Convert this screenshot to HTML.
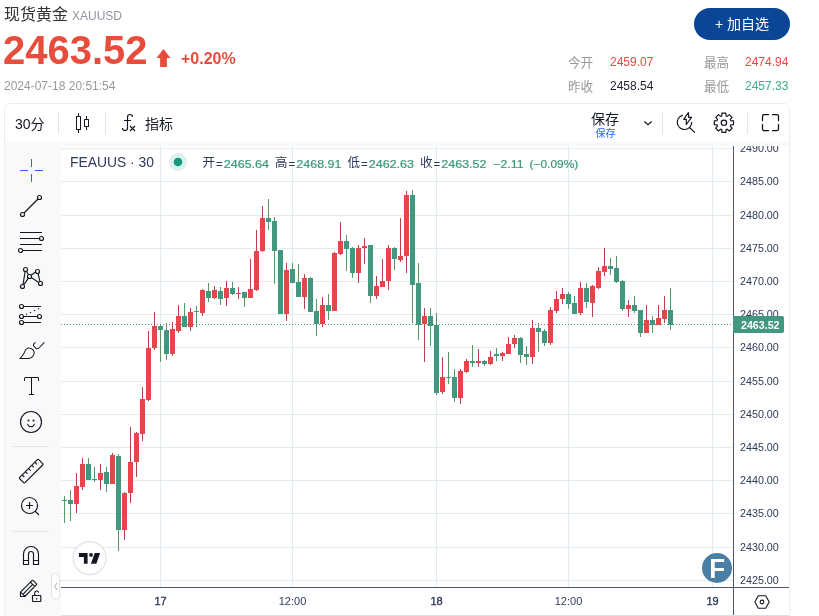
<!DOCTYPE html>
<html lang="zh-CN">
<head>
<meta charset="utf-8">
<title>现货黄金 XAUUSD</title>
<style>
*{box-sizing:border-box;margin:0;padding:0}
html,body{width:819px;height:616px;overflow:hidden;background:#fff}
body{position:relative;font-family:"Liberation Sans","Noto Sans CJK SC",sans-serif;color:#333}
.abs{position:absolute;white-space:nowrap;line-height:1}
#title{left:4px;top:6px;font-size:16px;color:#333;line-height:18px}
#code{left:72px;top:9px;font-size:12px;color:#9094a0;line-height:14px}
#price{left:3px;top:28px;font-size:40px;font-weight:bold;color:#e74c3c;line-height:44px;transform:scaleY(1.035);transform-origin:0 36px}
#chg{left:181px;top:50px;font-size:16px;font-weight:bold;color:#e74c3c;line-height:18px}
#time{left:4px;top:79px;font-size:12px;color:#999;line-height:14px}
#btn{left:694px;top:8px;width:96px;height:32px;border-radius:16px;background:#0b4596;color:#fff;font-size:14px;line-height:32px;text-align:center}
.st{font-size:12px;line-height:14px}
.lb{color:#999;font-size:12.6px;margin-top:0.5px}
.up{color:#ea483f}
.dn{color:#3cae8c}
.eq{color:#1d2130}
#box{left:4px;top:103px;width:786px;height:530px;border:1px solid #eceef3;border-radius:6px;background:#f9f9f9;overflow:hidden}
#tb{left:0;top:0;width:784px;height:38px;background:#fff}
#pane{left:56px;top:42px;width:728px;height:490px;background:#fff;border-top-left-radius:3px}
.sep{width:1px;height:22px;top:112px;background:#e3e5ec}
.tbt{font-size:14px;color:#131722;line-height:16px}
svg{position:absolute;left:0;top:0}
svg text.ax{font-family:"Liberation Sans",sans-serif;font-size:11px;fill:#2f3a5a}
svg text{font-family:"Liberation Sans","Noto Sans CJK SC",sans-serif}
</style>
</head>
<body>
<div id="title" class="abs">现货黄金</div>
<div id="code" class="abs">XAUUSD</div>
<div id="price" class="abs">2463.52</div>
<div id="chg" class="abs">+0.20%</div>
<div id="time" class="abs">2024-07-18 20:51:54</div>
<div id="btn" class="abs">+ 加自选</div>
<div class="abs st lb" style="left:568px;top:55px">今开</div>
<div class="abs st up" style="left:610px;top:55px">2459.07</div>
<div class="abs st lb" style="left:704px;top:55px">最高</div>
<div class="abs st up" style="left:745px;top:55px">2474.94</div>
<div class="abs st lb" style="left:568px;top:79px">昨收</div>
<div class="abs st eq" style="left:610px;top:79px">2458.54</div>
<div class="abs st lb" style="left:704px;top:79px">最低</div>
<div class="abs st dn" style="left:745px;top:79px">2457.33</div>

<div id="box" class="abs">
  <div id="tb" class="abs"></div>
  <div id="pane" class="abs"></div>
</div>
<div class="abs sep" style="left:58px"></div>
<div class="abs sep" style="left:105px"></div>
<div class="abs sep" style="left:662px"></div>
<div class="abs sep" style="left:747px"></div>
<div class="abs tbt" style="left:15px;top:116px">30分</div>
<div class="abs tbt" style="left:145px;top:116px">指标</div>
<div class="abs tbt" style="left:591px;top:111px">保存</div>
<div class="abs" style="left:595.5px;top:128px;font-size:10px;color:#2962ff;line-height:12px">保存</div>

<svg width="819" height="616" viewBox="0 0 819 616">
<path d="M163.500 49L170.500 58H166.900V66.900H160.100V58H156.500Z" fill="#e74c3c"/>
<g shape-rendering="crispEdges">
<rect x="61" y="148" width="672" height="1" fill="#e1ecf2"/>
<rect x="61" y="181" width="672" height="1" fill="#e1ecf2"/>
<rect x="61" y="215" width="672" height="1" fill="#e1ecf2"/>
<rect x="61" y="248" width="672" height="1" fill="#e1ecf2"/>
<rect x="61" y="281" width="672" height="1" fill="#e1ecf2"/>
<rect x="61" y="314" width="672" height="1" fill="#e1ecf2"/>
<rect x="61" y="347" width="672" height="1" fill="#e1ecf2"/>
<rect x="61" y="381" width="672" height="1" fill="#e1ecf2"/>
<rect x="61" y="414" width="672" height="1" fill="#e1ecf2"/>
<rect x="61" y="447" width="672" height="1" fill="#e1ecf2"/>
<rect x="61" y="480" width="672" height="1" fill="#e1ecf2"/>
<rect x="61" y="513" width="672" height="1" fill="#e1ecf2"/>
<rect x="61" y="547" width="672" height="1" fill="#e1ecf2"/>
<rect x="61" y="580" width="672" height="1" fill="#e1ecf2"/>
<rect x="160" y="146" width="1" height="441" fill="#e1ecf2"/>
<rect x="292" y="146" width="1" height="441" fill="#e1ecf2"/>
<rect x="436" y="146" width="1" height="441" fill="#e1ecf2"/>
<rect x="568" y="146" width="1" height="441" fill="#e1ecf2"/>
<rect x="712" y="146" width="1" height="441" fill="#e1ecf2"/>
<rect x="61" y="324" width="1" height="1" fill="#41987f"/>
<rect x="64" y="324" width="1" height="1" fill="#41987f"/>
<rect x="67" y="324" width="1" height="1" fill="#41987f"/>
<rect x="70" y="324" width="1" height="1" fill="#41987f"/>
<rect x="73" y="324" width="1" height="1" fill="#41987f"/>
<rect x="76" y="324" width="1" height="1" fill="#41987f"/>
<rect x="79" y="324" width="1" height="1" fill="#41987f"/>
<rect x="82" y="324" width="1" height="1" fill="#41987f"/>
<rect x="85" y="324" width="1" height="1" fill="#41987f"/>
<rect x="88" y="324" width="1" height="1" fill="#41987f"/>
<rect x="91" y="324" width="1" height="1" fill="#41987f"/>
<rect x="94" y="324" width="1" height="1" fill="#41987f"/>
<rect x="97" y="324" width="1" height="1" fill="#41987f"/>
<rect x="100" y="324" width="1" height="1" fill="#41987f"/>
<rect x="103" y="324" width="1" height="1" fill="#41987f"/>
<rect x="106" y="324" width="1" height="1" fill="#41987f"/>
<rect x="109" y="324" width="1" height="1" fill="#41987f"/>
<rect x="112" y="324" width="1" height="1" fill="#41987f"/>
<rect x="115" y="324" width="1" height="1" fill="#41987f"/>
<rect x="118" y="324" width="1" height="1" fill="#41987f"/>
<rect x="121" y="324" width="1" height="1" fill="#41987f"/>
<rect x="124" y="324" width="1" height="1" fill="#41987f"/>
<rect x="127" y="324" width="1" height="1" fill="#41987f"/>
<rect x="130" y="324" width="1" height="1" fill="#41987f"/>
<rect x="133" y="324" width="1" height="1" fill="#41987f"/>
<rect x="136" y="324" width="1" height="1" fill="#41987f"/>
<rect x="139" y="324" width="1" height="1" fill="#41987f"/>
<rect x="142" y="324" width="1" height="1" fill="#41987f"/>
<rect x="145" y="324" width="1" height="1" fill="#41987f"/>
<rect x="148" y="324" width="1" height="1" fill="#41987f"/>
<rect x="151" y="324" width="1" height="1" fill="#41987f"/>
<rect x="154" y="324" width="1" height="1" fill="#41987f"/>
<rect x="157" y="324" width="1" height="1" fill="#41987f"/>
<rect x="160" y="324" width="1" height="1" fill="#41987f"/>
<rect x="163" y="324" width="1" height="1" fill="#41987f"/>
<rect x="166" y="324" width="1" height="1" fill="#41987f"/>
<rect x="169" y="324" width="1" height="1" fill="#41987f"/>
<rect x="172" y="324" width="1" height="1" fill="#41987f"/>
<rect x="175" y="324" width="1" height="1" fill="#41987f"/>
<rect x="178" y="324" width="1" height="1" fill="#41987f"/>
<rect x="181" y="324" width="1" height="1" fill="#41987f"/>
<rect x="184" y="324" width="1" height="1" fill="#41987f"/>
<rect x="187" y="324" width="1" height="1" fill="#41987f"/>
<rect x="190" y="324" width="1" height="1" fill="#41987f"/>
<rect x="193" y="324" width="1" height="1" fill="#41987f"/>
<rect x="196" y="324" width="1" height="1" fill="#41987f"/>
<rect x="199" y="324" width="1" height="1" fill="#41987f"/>
<rect x="202" y="324" width="1" height="1" fill="#41987f"/>
<rect x="205" y="324" width="1" height="1" fill="#41987f"/>
<rect x="208" y="324" width="1" height="1" fill="#41987f"/>
<rect x="211" y="324" width="1" height="1" fill="#41987f"/>
<rect x="214" y="324" width="1" height="1" fill="#41987f"/>
<rect x="217" y="324" width="1" height="1" fill="#41987f"/>
<rect x="220" y="324" width="1" height="1" fill="#41987f"/>
<rect x="223" y="324" width="1" height="1" fill="#41987f"/>
<rect x="226" y="324" width="1" height="1" fill="#41987f"/>
<rect x="229" y="324" width="1" height="1" fill="#41987f"/>
<rect x="232" y="324" width="1" height="1" fill="#41987f"/>
<rect x="235" y="324" width="1" height="1" fill="#41987f"/>
<rect x="238" y="324" width="1" height="1" fill="#41987f"/>
<rect x="241" y="324" width="1" height="1" fill="#41987f"/>
<rect x="244" y="324" width="1" height="1" fill="#41987f"/>
<rect x="247" y="324" width="1" height="1" fill="#41987f"/>
<rect x="250" y="324" width="1" height="1" fill="#41987f"/>
<rect x="253" y="324" width="1" height="1" fill="#41987f"/>
<rect x="256" y="324" width="1" height="1" fill="#41987f"/>
<rect x="259" y="324" width="1" height="1" fill="#41987f"/>
<rect x="262" y="324" width="1" height="1" fill="#41987f"/>
<rect x="265" y="324" width="1" height="1" fill="#41987f"/>
<rect x="268" y="324" width="1" height="1" fill="#41987f"/>
<rect x="271" y="324" width="1" height="1" fill="#41987f"/>
<rect x="274" y="324" width="1" height="1" fill="#41987f"/>
<rect x="277" y="324" width="1" height="1" fill="#41987f"/>
<rect x="280" y="324" width="1" height="1" fill="#41987f"/>
<rect x="283" y="324" width="1" height="1" fill="#41987f"/>
<rect x="286" y="324" width="1" height="1" fill="#41987f"/>
<rect x="289" y="324" width="1" height="1" fill="#41987f"/>
<rect x="292" y="324" width="1" height="1" fill="#41987f"/>
<rect x="295" y="324" width="1" height="1" fill="#41987f"/>
<rect x="298" y="324" width="1" height="1" fill="#41987f"/>
<rect x="301" y="324" width="1" height="1" fill="#41987f"/>
<rect x="304" y="324" width="1" height="1" fill="#41987f"/>
<rect x="307" y="324" width="1" height="1" fill="#41987f"/>
<rect x="310" y="324" width="1" height="1" fill="#41987f"/>
<rect x="313" y="324" width="1" height="1" fill="#41987f"/>
<rect x="316" y="324" width="1" height="1" fill="#41987f"/>
<rect x="319" y="324" width="1" height="1" fill="#41987f"/>
<rect x="322" y="324" width="1" height="1" fill="#41987f"/>
<rect x="325" y="324" width="1" height="1" fill="#41987f"/>
<rect x="328" y="324" width="1" height="1" fill="#41987f"/>
<rect x="331" y="324" width="1" height="1" fill="#41987f"/>
<rect x="334" y="324" width="1" height="1" fill="#41987f"/>
<rect x="337" y="324" width="1" height="1" fill="#41987f"/>
<rect x="340" y="324" width="1" height="1" fill="#41987f"/>
<rect x="343" y="324" width="1" height="1" fill="#41987f"/>
<rect x="346" y="324" width="1" height="1" fill="#41987f"/>
<rect x="349" y="324" width="1" height="1" fill="#41987f"/>
<rect x="352" y="324" width="1" height="1" fill="#41987f"/>
<rect x="355" y="324" width="1" height="1" fill="#41987f"/>
<rect x="358" y="324" width="1" height="1" fill="#41987f"/>
<rect x="361" y="324" width="1" height="1" fill="#41987f"/>
<rect x="364" y="324" width="1" height="1" fill="#41987f"/>
<rect x="367" y="324" width="1" height="1" fill="#41987f"/>
<rect x="370" y="324" width="1" height="1" fill="#41987f"/>
<rect x="373" y="324" width="1" height="1" fill="#41987f"/>
<rect x="376" y="324" width="1" height="1" fill="#41987f"/>
<rect x="379" y="324" width="1" height="1" fill="#41987f"/>
<rect x="382" y="324" width="1" height="1" fill="#41987f"/>
<rect x="385" y="324" width="1" height="1" fill="#41987f"/>
<rect x="388" y="324" width="1" height="1" fill="#41987f"/>
<rect x="391" y="324" width="1" height="1" fill="#41987f"/>
<rect x="394" y="324" width="1" height="1" fill="#41987f"/>
<rect x="397" y="324" width="1" height="1" fill="#41987f"/>
<rect x="400" y="324" width="1" height="1" fill="#41987f"/>
<rect x="403" y="324" width="1" height="1" fill="#41987f"/>
<rect x="406" y="324" width="1" height="1" fill="#41987f"/>
<rect x="409" y="324" width="1" height="1" fill="#41987f"/>
<rect x="412" y="324" width="1" height="1" fill="#41987f"/>
<rect x="415" y="324" width="1" height="1" fill="#41987f"/>
<rect x="418" y="324" width="1" height="1" fill="#41987f"/>
<rect x="421" y="324" width="1" height="1" fill="#41987f"/>
<rect x="424" y="324" width="1" height="1" fill="#41987f"/>
<rect x="427" y="324" width="1" height="1" fill="#41987f"/>
<rect x="430" y="324" width="1" height="1" fill="#41987f"/>
<rect x="433" y="324" width="1" height="1" fill="#41987f"/>
<rect x="436" y="324" width="1" height="1" fill="#41987f"/>
<rect x="439" y="324" width="1" height="1" fill="#41987f"/>
<rect x="442" y="324" width="1" height="1" fill="#41987f"/>
<rect x="445" y="324" width="1" height="1" fill="#41987f"/>
<rect x="448" y="324" width="1" height="1" fill="#41987f"/>
<rect x="451" y="324" width="1" height="1" fill="#41987f"/>
<rect x="454" y="324" width="1" height="1" fill="#41987f"/>
<rect x="457" y="324" width="1" height="1" fill="#41987f"/>
<rect x="460" y="324" width="1" height="1" fill="#41987f"/>
<rect x="463" y="324" width="1" height="1" fill="#41987f"/>
<rect x="466" y="324" width="1" height="1" fill="#41987f"/>
<rect x="469" y="324" width="1" height="1" fill="#41987f"/>
<rect x="472" y="324" width="1" height="1" fill="#41987f"/>
<rect x="475" y="324" width="1" height="1" fill="#41987f"/>
<rect x="478" y="324" width="1" height="1" fill="#41987f"/>
<rect x="481" y="324" width="1" height="1" fill="#41987f"/>
<rect x="484" y="324" width="1" height="1" fill="#41987f"/>
<rect x="487" y="324" width="1" height="1" fill="#41987f"/>
<rect x="490" y="324" width="1" height="1" fill="#41987f"/>
<rect x="493" y="324" width="1" height="1" fill="#41987f"/>
<rect x="496" y="324" width="1" height="1" fill="#41987f"/>
<rect x="499" y="324" width="1" height="1" fill="#41987f"/>
<rect x="502" y="324" width="1" height="1" fill="#41987f"/>
<rect x="505" y="324" width="1" height="1" fill="#41987f"/>
<rect x="508" y="324" width="1" height="1" fill="#41987f"/>
<rect x="511" y="324" width="1" height="1" fill="#41987f"/>
<rect x="514" y="324" width="1" height="1" fill="#41987f"/>
<rect x="517" y="324" width="1" height="1" fill="#41987f"/>
<rect x="520" y="324" width="1" height="1" fill="#41987f"/>
<rect x="523" y="324" width="1" height="1" fill="#41987f"/>
<rect x="526" y="324" width="1" height="1" fill="#41987f"/>
<rect x="529" y="324" width="1" height="1" fill="#41987f"/>
<rect x="532" y="324" width="1" height="1" fill="#41987f"/>
<rect x="535" y="324" width="1" height="1" fill="#41987f"/>
<rect x="538" y="324" width="1" height="1" fill="#41987f"/>
<rect x="541" y="324" width="1" height="1" fill="#41987f"/>
<rect x="544" y="324" width="1" height="1" fill="#41987f"/>
<rect x="547" y="324" width="1" height="1" fill="#41987f"/>
<rect x="550" y="324" width="1" height="1" fill="#41987f"/>
<rect x="553" y="324" width="1" height="1" fill="#41987f"/>
<rect x="556" y="324" width="1" height="1" fill="#41987f"/>
<rect x="559" y="324" width="1" height="1" fill="#41987f"/>
<rect x="562" y="324" width="1" height="1" fill="#41987f"/>
<rect x="565" y="324" width="1" height="1" fill="#41987f"/>
<rect x="568" y="324" width="1" height="1" fill="#41987f"/>
<rect x="571" y="324" width="1" height="1" fill="#41987f"/>
<rect x="574" y="324" width="1" height="1" fill="#41987f"/>
<rect x="577" y="324" width="1" height="1" fill="#41987f"/>
<rect x="580" y="324" width="1" height="1" fill="#41987f"/>
<rect x="583" y="324" width="1" height="1" fill="#41987f"/>
<rect x="586" y="324" width="1" height="1" fill="#41987f"/>
<rect x="589" y="324" width="1" height="1" fill="#41987f"/>
<rect x="592" y="324" width="1" height="1" fill="#41987f"/>
<rect x="595" y="324" width="1" height="1" fill="#41987f"/>
<rect x="598" y="324" width="1" height="1" fill="#41987f"/>
<rect x="601" y="324" width="1" height="1" fill="#41987f"/>
<rect x="604" y="324" width="1" height="1" fill="#41987f"/>
<rect x="607" y="324" width="1" height="1" fill="#41987f"/>
<rect x="610" y="324" width="1" height="1" fill="#41987f"/>
<rect x="613" y="324" width="1" height="1" fill="#41987f"/>
<rect x="616" y="324" width="1" height="1" fill="#41987f"/>
<rect x="619" y="324" width="1" height="1" fill="#41987f"/>
<rect x="622" y="324" width="1" height="1" fill="#41987f"/>
<rect x="625" y="324" width="1" height="1" fill="#41987f"/>
<rect x="628" y="324" width="1" height="1" fill="#41987f"/>
<rect x="631" y="324" width="1" height="1" fill="#41987f"/>
<rect x="634" y="324" width="1" height="1" fill="#41987f"/>
<rect x="637" y="324" width="1" height="1" fill="#41987f"/>
<rect x="640" y="324" width="1" height="1" fill="#41987f"/>
<rect x="643" y="324" width="1" height="1" fill="#41987f"/>
<rect x="646" y="324" width="1" height="1" fill="#41987f"/>
<rect x="649" y="324" width="1" height="1" fill="#41987f"/>
<rect x="652" y="324" width="1" height="1" fill="#41987f"/>
<rect x="655" y="324" width="1" height="1" fill="#41987f"/>
<rect x="658" y="324" width="1" height="1" fill="#41987f"/>
<rect x="661" y="324" width="1" height="1" fill="#41987f"/>
<rect x="664" y="324" width="1" height="1" fill="#41987f"/>
<rect x="667" y="324" width="1" height="1" fill="#41987f"/>
<rect x="670" y="324" width="1" height="1" fill="#41987f"/>
<rect x="673" y="324" width="1" height="1" fill="#41987f"/>
<rect x="676" y="324" width="1" height="1" fill="#41987f"/>
<rect x="679" y="324" width="1" height="1" fill="#41987f"/>
<rect x="682" y="324" width="1" height="1" fill="#41987f"/>
<rect x="685" y="324" width="1" height="1" fill="#41987f"/>
<rect x="688" y="324" width="1" height="1" fill="#41987f"/>
<rect x="691" y="324" width="1" height="1" fill="#41987f"/>
<rect x="694" y="324" width="1" height="1" fill="#41987f"/>
<rect x="697" y="324" width="1" height="1" fill="#41987f"/>
<rect x="700" y="324" width="1" height="1" fill="#41987f"/>
<rect x="703" y="324" width="1" height="1" fill="#41987f"/>
<rect x="706" y="324" width="1" height="1" fill="#41987f"/>
<rect x="709" y="324" width="1" height="1" fill="#41987f"/>
<rect x="712" y="324" width="1" height="1" fill="#41987f"/>
<rect x="715" y="324" width="1" height="1" fill="#41987f"/>
<rect x="718" y="324" width="1" height="1" fill="#41987f"/>
<rect x="721" y="324" width="1" height="1" fill="#41987f"/>
<rect x="724" y="324" width="1" height="1" fill="#41987f"/>
<rect x="727" y="324" width="1" height="1" fill="#41987f"/>
<rect x="730" y="324" width="1" height="1" fill="#41987f"/>
<rect x="64" y="496" width="1" height="27" fill="#5b9664"/>
<rect x="62" y="500" width="5" height="1" fill="#41987f"/>
<rect x="70" y="490" width="1" height="31" fill="#5b9664"/>
<rect x="68" y="500" width="5" height="4" fill="#41987f"/>
<rect x="76" y="473" width="1" height="40" fill="#b4434f"/>
<rect x="74" y="486" width="5" height="18" fill="#e2474b"/>
<rect x="82" y="458" width="1" height="32" fill="#b4434f"/>
<rect x="80" y="464" width="5" height="23" fill="#e2474b"/>
<rect x="88" y="458" width="1" height="22" fill="#5b9664"/>
<rect x="86" y="464" width="5" height="16" fill="#41987f"/>
<rect x="94" y="467" width="1" height="15" fill="#5b9664"/>
<rect x="92" y="479" width="5" height="1" fill="#41987f"/>
<rect x="100" y="464" width="1" height="26" fill="#b4434f"/>
<rect x="98" y="473" width="5" height="7" fill="#e2474b"/>
<rect x="106" y="467" width="1" height="25" fill="#5b9664"/>
<rect x="104" y="472" width="5" height="12" fill="#41987f"/>
<rect x="112" y="453" width="1" height="31" fill="#b4434f"/>
<rect x="110" y="455" width="5" height="29" fill="#e2474b"/>
<rect x="118" y="454" width="1" height="97" fill="#5b9664"/>
<rect x="116" y="456" width="5" height="74" fill="#41987f"/>
<rect x="124" y="492" width="1" height="48" fill="#b4434f"/>
<rect x="122" y="493" width="5" height="37" fill="#e2474b"/>
<rect x="130" y="427" width="1" height="76" fill="#b4434f"/>
<rect x="128" y="462" width="5" height="31" fill="#e2474b"/>
<rect x="136" y="432" width="1" height="45" fill="#b4434f"/>
<rect x="134" y="433" width="5" height="29" fill="#e2474b"/>
<rect x="142" y="387" width="1" height="54" fill="#b4434f"/>
<rect x="140" y="399" width="5" height="35" fill="#e2474b"/>
<rect x="148" y="331" width="1" height="70" fill="#b4434f"/>
<rect x="146" y="348" width="5" height="52" fill="#e2474b"/>
<rect x="154" y="312" width="1" height="38" fill="#b4434f"/>
<rect x="152" y="326" width="5" height="22" fill="#e2474b"/>
<rect x="160" y="324" width="1" height="38" fill="#5b9664"/>
<rect x="158" y="326" width="5" height="4" fill="#41987f"/>
<rect x="166" y="323" width="1" height="37" fill="#5b9664"/>
<rect x="164" y="330" width="5" height="24" fill="#41987f"/>
<rect x="172" y="322" width="1" height="34" fill="#b4434f"/>
<rect x="170" y="329" width="5" height="25" fill="#e2474b"/>
<rect x="178" y="305" width="1" height="28" fill="#b4434f"/>
<rect x="176" y="316" width="5" height="15" fill="#e2474b"/>
<rect x="184" y="303" width="1" height="24" fill="#5b9664"/>
<rect x="182" y="316" width="5" height="11" fill="#41987f"/>
<rect x="190" y="308" width="1" height="23" fill="#b4434f"/>
<rect x="188" y="312" width="5" height="15" fill="#e2474b"/>
<rect x="196" y="306" width="1" height="21" fill="#5b9664"/>
<rect x="194" y="311" width="5" height="1" fill="#41987f"/>
<rect x="202" y="289" width="1" height="27" fill="#b4434f"/>
<rect x="200" y="290" width="5" height="23" fill="#e2474b"/>
<rect x="208" y="283" width="1" height="19" fill="#5b9664"/>
<rect x="206" y="291" width="5" height="7" fill="#41987f"/>
<rect x="214" y="286" width="1" height="13" fill="#b4434f"/>
<rect x="212" y="290" width="5" height="8" fill="#e2474b"/>
<rect x="220" y="287" width="1" height="18" fill="#5b9664"/>
<rect x="218" y="291" width="5" height="8" fill="#41987f"/>
<rect x="226" y="281" width="1" height="25" fill="#b4434f"/>
<rect x="224" y="288" width="5" height="10" fill="#e2474b"/>
<rect x="232" y="282" width="1" height="13" fill="#5b9664"/>
<rect x="230" y="288" width="5" height="6" fill="#41987f"/>
<rect x="238" y="287" width="1" height="12" fill="#b4434f"/>
<rect x="236" y="293" width="5" height="1" fill="#e2474b"/>
<rect x="244" y="292" width="1" height="15" fill="#5b9664"/>
<rect x="242" y="292" width="5" height="6" fill="#41987f"/>
<rect x="250" y="259" width="1" height="39" fill="#b4434f"/>
<rect x="248" y="289" width="5" height="9" fill="#e2474b"/>
<rect x="256" y="230" width="1" height="61" fill="#b4434f"/>
<rect x="254" y="251" width="5" height="39" fill="#e2474b"/>
<rect x="262" y="206" width="1" height="46" fill="#b4434f"/>
<rect x="260" y="218" width="5" height="33" fill="#e2474b"/>
<rect x="268" y="199" width="1" height="31" fill="#5b9664"/>
<rect x="266" y="218" width="5" height="4" fill="#41987f"/>
<rect x="274" y="217" width="1" height="67" fill="#5b9664"/>
<rect x="272" y="221" width="5" height="30" fill="#41987f"/>
<rect x="280" y="250" width="1" height="64" fill="#5b9664"/>
<rect x="278" y="250" width="5" height="64" fill="#41987f"/>
<rect x="286" y="263" width="1" height="58" fill="#b4434f"/>
<rect x="284" y="270" width="5" height="44" fill="#e2474b"/>
<rect x="292" y="263" width="1" height="20" fill="#5b9664"/>
<rect x="290" y="269" width="5" height="14" fill="#41987f"/>
<rect x="298" y="264" width="1" height="33" fill="#5b9664"/>
<rect x="296" y="282" width="5" height="15" fill="#41987f"/>
<rect x="304" y="274" width="1" height="35" fill="#b4434f"/>
<rect x="302" y="278" width="5" height="19" fill="#e2474b"/>
<rect x="310" y="277" width="1" height="35" fill="#5b9664"/>
<rect x="308" y="278" width="5" height="34" fill="#41987f"/>
<rect x="316" y="299" width="1" height="37" fill="#5b9664"/>
<rect x="314" y="311" width="5" height="13" fill="#41987f"/>
<rect x="322" y="297" width="1" height="30" fill="#b4434f"/>
<rect x="320" y="305" width="5" height="19" fill="#e2474b"/>
<rect x="328" y="294" width="1" height="26" fill="#5b9664"/>
<rect x="326" y="305" width="5" height="6" fill="#41987f"/>
<rect x="334" y="252" width="1" height="59" fill="#b4434f"/>
<rect x="332" y="253" width="5" height="58" fill="#e2474b"/>
<rect x="340" y="222" width="1" height="33" fill="#b4434f"/>
<rect x="338" y="241" width="5" height="13" fill="#e2474b"/>
<rect x="346" y="235" width="1" height="36" fill="#5b9664"/>
<rect x="344" y="241" width="5" height="8" fill="#41987f"/>
<rect x="352" y="247" width="1" height="31" fill="#5b9664"/>
<rect x="350" y="248" width="5" height="25" fill="#41987f"/>
<rect x="358" y="245" width="1" height="38" fill="#b4434f"/>
<rect x="356" y="248" width="5" height="25" fill="#e2474b"/>
<rect x="364" y="238" width="1" height="26" fill="#b4434f"/>
<rect x="362" y="246" width="5" height="2" fill="#e2474b"/>
<rect x="370" y="245" width="1" height="58" fill="#5b9664"/>
<rect x="368" y="245" width="5" height="51" fill="#41987f"/>
<rect x="376" y="276" width="1" height="23" fill="#b4434f"/>
<rect x="374" y="286" width="5" height="10" fill="#e2474b"/>
<rect x="382" y="259" width="1" height="28" fill="#b4434f"/>
<rect x="380" y="281" width="5" height="6" fill="#e2474b"/>
<rect x="388" y="245" width="1" height="45" fill="#b4434f"/>
<rect x="386" y="248" width="5" height="33" fill="#e2474b"/>
<rect x="394" y="247" width="1" height="23" fill="#5b9664"/>
<rect x="392" y="248" width="5" height="11" fill="#41987f"/>
<rect x="400" y="218" width="1" height="44" fill="#b4434f"/>
<rect x="398" y="256" width="5" height="4" fill="#e2474b"/>
<rect x="406" y="191" width="1" height="82" fill="#b4434f"/>
<rect x="404" y="195" width="5" height="61" fill="#e2474b"/>
<rect x="412" y="190" width="1" height="133" fill="#5b9664"/>
<rect x="410" y="195" width="5" height="90" fill="#41987f"/>
<rect x="418" y="263" width="1" height="77" fill="#5b9664"/>
<rect x="416" y="283" width="5" height="42" fill="#41987f"/>
<rect x="424" y="308" width="1" height="54" fill="#b4434f"/>
<rect x="422" y="316" width="5" height="8" fill="#e2474b"/>
<rect x="430" y="308" width="1" height="38" fill="#5b9664"/>
<rect x="428" y="316" width="5" height="10" fill="#41987f"/>
<rect x="436" y="313" width="1" height="82" fill="#5b9664"/>
<rect x="434" y="325" width="5" height="68" fill="#41987f"/>
<rect x="442" y="357" width="1" height="37" fill="#b4434f"/>
<rect x="440" y="377" width="5" height="15" fill="#e2474b"/>
<rect x="448" y="352" width="1" height="32" fill="#5b9664"/>
<rect x="446" y="377" width="5" height="1" fill="#41987f"/>
<rect x="454" y="369" width="1" height="33" fill="#5b9664"/>
<rect x="452" y="377" width="5" height="21" fill="#41987f"/>
<rect x="460" y="369" width="1" height="35" fill="#b4434f"/>
<rect x="458" y="371" width="5" height="27" fill="#e2474b"/>
<rect x="466" y="359" width="1" height="14" fill="#b4434f"/>
<rect x="464" y="361" width="5" height="11" fill="#e2474b"/>
<rect x="472" y="345" width="1" height="22" fill="#5b9664"/>
<rect x="470" y="361" width="5" height="2" fill="#41987f"/>
<rect x="478" y="349" width="1" height="18" fill="#b4434f"/>
<rect x="476" y="361" width="5" height="2" fill="#e2474b"/>
<rect x="484" y="360" width="1" height="6" fill="#5b9664"/>
<rect x="482" y="361" width="5" height="3" fill="#41987f"/>
<rect x="490" y="351" width="1" height="14" fill="#b4434f"/>
<rect x="488" y="357" width="5" height="7" fill="#e2474b"/>
<rect x="496" y="348" width="1" height="13" fill="#5b9664"/>
<rect x="494" y="354" width="5" height="2" fill="#41987f"/>
<rect x="502" y="352" width="1" height="9" fill="#b4434f"/>
<rect x="500" y="353" width="5" height="3" fill="#e2474b"/>
<rect x="508" y="337" width="1" height="17" fill="#b4434f"/>
<rect x="506" y="344" width="5" height="10" fill="#e2474b"/>
<rect x="514" y="335" width="1" height="13" fill="#b4434f"/>
<rect x="512" y="338" width="5" height="6" fill="#e2474b"/>
<rect x="520" y="337" width="1" height="26" fill="#5b9664"/>
<rect x="518" y="338" width="5" height="17" fill="#41987f"/>
<rect x="526" y="346" width="1" height="19" fill="#5b9664"/>
<rect x="524" y="354" width="5" height="3" fill="#41987f"/>
<rect x="532" y="320" width="1" height="44" fill="#b4434f"/>
<rect x="530" y="328" width="5" height="29" fill="#e2474b"/>
<rect x="538" y="323" width="1" height="29" fill="#5b9664"/>
<rect x="536" y="328" width="5" height="4" fill="#41987f"/>
<rect x="544" y="329" width="1" height="17" fill="#5b9664"/>
<rect x="542" y="331" width="5" height="12" fill="#41987f"/>
<rect x="550" y="307" width="1" height="38" fill="#b4434f"/>
<rect x="548" y="310" width="5" height="33" fill="#e2474b"/>
<rect x="556" y="291" width="1" height="22" fill="#b4434f"/>
<rect x="554" y="299" width="5" height="12" fill="#e2474b"/>
<rect x="562" y="288" width="1" height="16" fill="#b4434f"/>
<rect x="560" y="294" width="5" height="5" fill="#e2474b"/>
<rect x="568" y="292" width="1" height="17" fill="#5b9664"/>
<rect x="566" y="294" width="5" height="10" fill="#41987f"/>
<rect x="574" y="296" width="1" height="18" fill="#5b9664"/>
<rect x="572" y="303" width="5" height="11" fill="#41987f"/>
<rect x="580" y="282" width="1" height="33" fill="#b4434f"/>
<rect x="578" y="288" width="5" height="25" fill="#e2474b"/>
<rect x="586" y="283" width="1" height="25" fill="#5b9664"/>
<rect x="584" y="288" width="5" height="14" fill="#41987f"/>
<rect x="592" y="285" width="1" height="32" fill="#b4434f"/>
<rect x="590" y="286" width="5" height="17" fill="#e2474b"/>
<rect x="598" y="267" width="1" height="22" fill="#b4434f"/>
<rect x="596" y="271" width="5" height="17" fill="#e2474b"/>
<rect x="604" y="248" width="1" height="28" fill="#b4434f"/>
<rect x="602" y="266" width="5" height="6" fill="#e2474b"/>
<rect x="610" y="258" width="1" height="17" fill="#5b9664"/>
<rect x="608" y="266" width="5" height="3" fill="#41987f"/>
<rect x="616" y="256" width="1" height="27" fill="#5b9664"/>
<rect x="614" y="268" width="5" height="14" fill="#41987f"/>
<rect x="622" y="280" width="1" height="31" fill="#5b9664"/>
<rect x="620" y="281" width="5" height="28" fill="#41987f"/>
<rect x="628" y="300" width="1" height="17" fill="#b4434f"/>
<rect x="626" y="305" width="5" height="4" fill="#e2474b"/>
<rect x="634" y="296" width="1" height="17" fill="#5b9664"/>
<rect x="632" y="305" width="5" height="6" fill="#41987f"/>
<rect x="640" y="310" width="1" height="27" fill="#5b9664"/>
<rect x="638" y="310" width="5" height="23" fill="#41987f"/>
<rect x="646" y="305" width="1" height="28" fill="#b4434f"/>
<rect x="644" y="320" width="5" height="13" fill="#e2474b"/>
<rect x="652" y="316" width="1" height="17" fill="#5b9664"/>
<rect x="650" y="320" width="5" height="5" fill="#41987f"/>
<rect x="658" y="305" width="1" height="20" fill="#b4434f"/>
<rect x="656" y="318" width="5" height="7" fill="#e2474b"/>
<rect x="664" y="296" width="1" height="27" fill="#b4434f"/>
<rect x="662" y="310" width="5" height="9" fill="#e2474b"/>
<rect x="670" y="288" width="1" height="42" fill="#5b9664"/>
<rect x="668" y="310" width="5" height="15" fill="#41987f"/>
<rect x="733" y="146" width="1" height="469" fill="#4c5576"/>
<rect x="61" y="587" width="728" height="1" fill="#4c5576"/>
<rect x="61" y="615" width="728" height="1" fill="#dcdfe9"/>
<rect x="13" y="446" width="36" height="1" fill="#e0e3eb"/>
<rect x="13" y="531" width="36" height="1" fill="#e0e3eb"/>
</g>
<clipPath id="pc"><rect x="734" y="146" width="55" height="441"/></clipPath>
<g clip-path="url(#pc)">
<text x="740" y="151.5" class="ax" textLength="38.8" lengthAdjust="spacingAndGlyphs">2490.00</text>
<text x="740" y="184.5" class="ax" textLength="38.8" lengthAdjust="spacingAndGlyphs">2485.00</text>
<text x="740" y="218.5" class="ax" textLength="38.8" lengthAdjust="spacingAndGlyphs">2480.00</text>
<text x="740" y="251.5" class="ax" textLength="38.8" lengthAdjust="spacingAndGlyphs">2475.00</text>
<text x="740" y="284.5" class="ax" textLength="38.8" lengthAdjust="spacingAndGlyphs">2470.00</text>
<text x="740" y="317.5" class="ax" textLength="38.8" lengthAdjust="spacingAndGlyphs">2465.00</text>
<text x="740" y="350.5" class="ax" textLength="38.8" lengthAdjust="spacingAndGlyphs">2460.00</text>
<text x="740" y="384.5" class="ax" textLength="38.8" lengthAdjust="spacingAndGlyphs">2455.00</text>
<text x="740" y="417.5" class="ax" textLength="38.8" lengthAdjust="spacingAndGlyphs">2450.00</text>
<text x="740" y="450.5" class="ax" textLength="38.8" lengthAdjust="spacingAndGlyphs">2445.00</text>
<text x="740" y="483.5" class="ax" textLength="38.8" lengthAdjust="spacingAndGlyphs">2440.00</text>
<text x="740" y="516.5" class="ax" textLength="38.8" lengthAdjust="spacingAndGlyphs">2435.00</text>
<text x="740" y="550.5" class="ax" textLength="38.8" lengthAdjust="spacingAndGlyphs">2430.00</text>
<text x="740" y="583.5" class="ax" textLength="38.8" lengthAdjust="spacingAndGlyphs">2425.00</text>
</g>
<text x="160.5" y="604.500" class="ax" text-anchor="middle" stroke="#2f3a5a" stroke-width="0.350">17</text>
<text x="292.5" y="604.500" class="ax" text-anchor="middle">12:00</text>
<text x="436.5" y="604.500" class="ax" text-anchor="middle" stroke="#2f3a5a" stroke-width="0.350">18</text>
<text x="568.5" y="604.500" class="ax" text-anchor="middle">12:00</text>
<text x="712.5" y="604.500" class="ax" text-anchor="middle" stroke="#2f3a5a" stroke-width="0.350">19</text>
<path d="M733 316h49a2 2 0 0 1 2 2v13a2 2 0 0 1-2 2h-49z" fill="#41987f"/>
<text x="741" y="329" font-size="11" font-weight="bold" fill="#fff" textLength="38.500" lengthAdjust="spacingAndGlyphs">2463.52</text>
<text x="70" y="167.400" font-size="15" fill="#2f3a5a" textLength="84" lengthAdjust="spacingAndGlyphs">FEAUUS · 30</text>
<circle cx="178" cy="162" r="8.900" fill="#dcf1ec"/>
<circle cx="178" cy="162" r="4.300" fill="#0f9a80"/>
<text x="202.5" y="167" font-size="12.500" fill="#2f3a5a">开</text>
<text x="216" y="167.500" font-size="11.500" fill="#2f3a5a">=</text>
<text x="223.8" y="167.700" font-size="11" fill="#3a987d" stroke="#3a987d" stroke-width="0.200" textLength="45.200" lengthAdjust="spacingAndGlyphs">2465.64</text>
<text x="275.0" y="167" font-size="12.500" fill="#2f3a5a">高</text>
<text x="288.5" y="167.500" font-size="11.500" fill="#2f3a5a">=</text>
<text x="296.3" y="167.700" font-size="11" fill="#3a987d" stroke="#3a987d" stroke-width="0.200" textLength="45.200" lengthAdjust="spacingAndGlyphs">2468.91</text>
<text x="347.5" y="167" font-size="12.500" fill="#2f3a5a">低</text>
<text x="361" y="167.500" font-size="11.500" fill="#2f3a5a">=</text>
<text x="368.8" y="167.700" font-size="11" fill="#3a987d" stroke="#3a987d" stroke-width="0.200" textLength="45.200" lengthAdjust="spacingAndGlyphs">2462.63</text>
<text x="420.0" y="167" font-size="12.500" fill="#2f3a5a">收</text>
<text x="433.5" y="167.500" font-size="11.500" fill="#2f3a5a">=</text>
<text x="441.3" y="167.700" font-size="11" fill="#3a987d" stroke="#3a987d" stroke-width="0.200" textLength="45.200" lengthAdjust="spacingAndGlyphs">2463.52</text>
<text x="493.200" y="167.700" font-size="11" fill="#3a987d" stroke="#3a987d" stroke-width="0.200" textLength="30.400" lengthAdjust="spacingAndGlyphs">−2.11</text>
<text x="529.500" y="167.700" font-size="11" fill="#3a987d" stroke="#3a987d" stroke-width="0.200" textLength="48.800" lengthAdjust="spacingAndGlyphs">(−0.09%)</text>
<g transform="translate(17 156)" fill="#2962ff"><path d="M18 15h8v-1h-8z"/><path d="M14 18v8h1v-8zM14 3v8h1v-8zM3 15h8v-1h-8z"/></g>
<g transform="translate(17 192)" fill="none" stroke="#131722" stroke-width="1.150" ><circle cx="22.5" cy="5.5" r="2"/><circle cx="5.5" cy="22.5" r="2"/><path d="M7 21L21 7"/></g>
<g transform="translate(17 228)" fill="none" stroke="#131722" stroke-width="1.150" ><path d="M3 4.500h22M3 16.500h22M3 10.500h19.500M5.500 22.500H25"/><circle cx="3.5" cy="22.5" r="2"/><circle cx="24.5" cy="10.5" r="2"/></g>
<g transform="translate(17 264)" fill="none" stroke="#131722" stroke-width="1.150" ><circle cx="8.5" cy="5.5" r="2"/><circle cx="5.5" cy="22.5" r="2"/><circle cx="12.5" cy="12.5" r="2"/><circle cx="23.5" cy="19.5" r="2"/><circle cx="20.5" cy="7.5" r="2"/><path d="M6 20.500L8.150 7.500M9.500 7.200L11.500 10.700M14 11.300L18.900 7.700M21 9.500L23 17.600M21.800 18.400L14.200 13.600M11.400 14.100L6.650 20.860"/></g>
<g transform="translate(17 300)" fill="none" stroke="#131722" stroke-width="1.150" ><circle cx="4.5" cy="6.5" r="2"/><circle cx="4.5" cy="16.5" r="2"/><circle cx="22.5" cy="16.5" r="2"/><circle cx="4.5" cy="22.5" r="2"/><path d="M7 6.500H24M7 16.500H20M7 22.500H24"/><path d="M22.400 8.940l-1.390.630-.410-.910 1.390-.630.410.910zm-4 1.800l-1.390.630-.410-.910 1.390-.630.410.910zm-4 1.800l-1.400.630-.400-.910 1.390-.630.410.910zm-4 1.800l-1.400.630-.400-.910 1.390-.630.410.910z" fill="#131722" stroke="none"/></g>
<g transform="translate(17 336)" fill="#131722"><path d="M1.789 23l.859-.854.221-.228c.18-.19.38-.409.597-.655.619-.704 1.238-1.478 1.815-2.298.982-1.396 1.738-2.776 2.177-4.081 1.234-3.667 5.957-4.716 8.923-1.263 3.251 3.785-.037 9.38-5.379 9.38h-9.211zm9.211-1c4.544 0 7.272-4.642 4.621-7.728-2.45-2.853-6.225-2.015-7.216.931-.474 1.408-1.273 2.869-2.307 4.337-.599.852-1.241 1.653-1.882 2.383l-.68.078h6.853z"/><path d="M18.182 6.002l-1.419 1.286c-1.031.935-1.075 2.501-.096 3.48l1.877 1.877c.976.976 2.553.954 3.513-.045l5.65-5.874-.721-.693-5.65 5.874c-.574.596-1.507.609-2.086.031l-1.877-1.877c-.574-.574-.548-1.48.061-2.032l1.419-1.286-.672-.741z"/></g>
<g transform="translate(17 372)" fill="#131722"><path d="M8 6.500c0-.28.22-.5.5-.5H14v16h-2v1h5v-1h-2V6h5.500c.28 0 .5.220.5.500V9h1V6.500c0-.83-.67-1.500-1.500-1.500h-11C7.670 5 7 5.670 7 6.500V9h1V6.500z"/></g>
<g transform="translate(17 408)" fill="none" stroke="#131722" stroke-width="1.150" ><circle cx="14" cy="14" r="10.5"/><path d="M10.700 16.400a3.500 3.500 0 0 0 6.600 0" stroke-linecap="round"/><circle cx="11.500" cy="12.500" r="1" fill="#131722" stroke="none"/><circle cx="16.500" cy="12.500" r="1" fill="#131722" stroke="none"/></g>
<g transform="translate(17 457)" fill="none" stroke="#131722" stroke-width="1.150" ><g transform="rotate(-45 14 14)"><rect x="0.500" y="10.500" width="27" height="7.500" rx="1"/><path d="M5 10.500v3M9.500 10.500v3M14 10.500v3M18.500 10.500v3M23 10.500v3"/></g></g>
<g transform="translate(17 493)" fill="none" stroke="#131722" stroke-width="1.150" ><circle cx="12.5" cy="12.5" r="8"/><path d="M9 12.500h7M12.500 9v7M18 18l4 4"/></g>
<g transform="translate(17 542)" fill="none" stroke="#131722" stroke-width="1.150" ><path d="M6.500 22.500V12a7.500 7.500 0 0 1 15 0v10.500h-5V12a2.500 2.500 0 0 0-5 0v10.500zM6.500 18.500h5M16.500 18.500h5"/></g>
<g transform="translate(17 578)" fill="none" stroke="#131722" stroke-width="1.150" ><path d="M3.500 18.500V14.200L15.200 2.400a0.600 0.600 0 0 1 0.850 0L19.500 5.850a0.600 0.600 0 0 1 0 0.850L7.800 18.500ZM3.700 14.100L7.900 18.300M6.400 15.800L15.400 6.700M13.600 4.300L17.700 8.400" stroke-linejoin="round"/><rect x="15.500" y="17.500" width="8.300" height="6" rx="0.500"/><path d="M17.700 17.500v-2.300a2 2.200 0 0 1 3.950 -0.500"/><path d="M19.600 20v1.500"/></g>
<g transform="translate(68 109)" fill="#131722"><path d="M17 11v6h3v-6h-3zm-.5-1h4a.5.500 0 0 1 .5.500v7a.5.500 0 0 1-.5.500h-4a.5.500 0 0 1-.5-.5v-7a.5.500 0 0 1 .5-.5z"/><path d="M18 7h1v3.500h-1zm0 10.500h1V21h-1z"/><path d="M9 8v12h3V8H9zm-.5-1h4a.5.500 0 0 1 .5.500v13a.5.500 0 0 1-.5.500h-4a.5.500 0 0 1-.5-.5v-13a.5.500 0 0 1 .5-.5z"/><path d="M10 4h1v3.500h-1zm0 16.500h1V24h-1z"/></g>
<g transform="translate(115 109)" fill="none" stroke="#131722" stroke-width="1.150" ><path d="M20 17l-5 5M15 17l5 5M9 11.500h7M17.500 8a2.500 2.500 0 0 0-5 0v11a2.500 2.500 0 0 1-5 0"/></g>
<path d="M644.300 121.600l3.700 3.100 3.700-3.100" fill="none" stroke="#131722" stroke-width="1.300"/>
<g transform="translate(0 0)" fill="none" stroke="#131722" stroke-width="1.150" style="stroke-width:1.2"><path d="M682.500 115.400A7.200 7.200 0 1 0 691.700 122.300M689.500 127.500l5.100 4.900" stroke-linecap="round"/><path d="M688.400 112.500L683.700 119.300H686.300V124.500L691.500 117.400H688.700Z" stroke-linejoin="round"/></g>
<g transform="translate(0 0)" fill="none" stroke="#131722" stroke-width="1.150" style="stroke-width:1.2"><path d="M721.95 113.20L725.85 113.20L726.07 115.93L727.22 116.41L729.31 114.63L732.07 117.39L730.29 119.48L730.77 120.63L733.50 120.85L733.50 124.75L730.77 124.97L730.29 126.12L732.07 128.21L729.31 130.97L727.22 129.19L726.07 129.67L725.85 132.40L721.95 132.40L721.73 129.67L720.58 129.19L718.49 130.97L715.73 128.21L717.51 126.12L717.03 124.97L714.30 124.75L714.30 120.85L717.03 120.63L717.51 119.48L715.73 117.39L718.49 114.63L720.58 116.41L721.73 115.93Z" stroke-linejoin="round"/><circle cx="723.9" cy="122.8" r="2.7"/></g>
<path d="M762.500 120.500V116a1.500 1.500 0 0 1 1.500-1.500H768.500M772.500 114.500H777a1.500 1.500 0 0 1 1.500 1.500V120.500M762.500 124.500V129a1.500 1.500 0 0 0 1.500 1.500H768.500M772.500 130.500H777a1.500 1.500 0 0 0 1.500-1.500V124.500" fill="none" stroke="#0b0d14" stroke-width="1.250" stroke-linecap="round"/>
<circle cx="89.600" cy="558.100" r="16.500" fill="#fff" stroke="#dfe2eb" stroke-width="1.200"/>
<g fill="#131722"><path d="M78.900 552.900H87.600V563.700H83.900V556.900H78.900Z"/><circle cx="91" cy="554.900" r="1.900"/><path d="M94.800 552.900H100.100L96.400 563.700H90.900Z"/></g>
<circle cx="717" cy="568" r="15" fill="#4a7fa5"/>
<text transform="translate(709.200 577.800) scale(0.970 1.050)" font-size="26.700" font-weight="bold" fill="#fff">F</text>
<rect x="51.500" y="573.500" width="8" height="26" rx="4" fill="#fff" stroke="#e0e3eb"/>
<path d="M57 583l-2.500 3.500 2.500 3.500" fill="none" stroke="#a3a6af"/>
<g fill="none" stroke="#131722" stroke-width="1.100" stroke-linejoin="round"><path d="M754.800 602L758.300 595.800H765.700L769.200 602L765.700 608.200H758.300Z"/><circle cx="762" cy="602" r="1.900"/></g>
</svg>
</body>
</html>
